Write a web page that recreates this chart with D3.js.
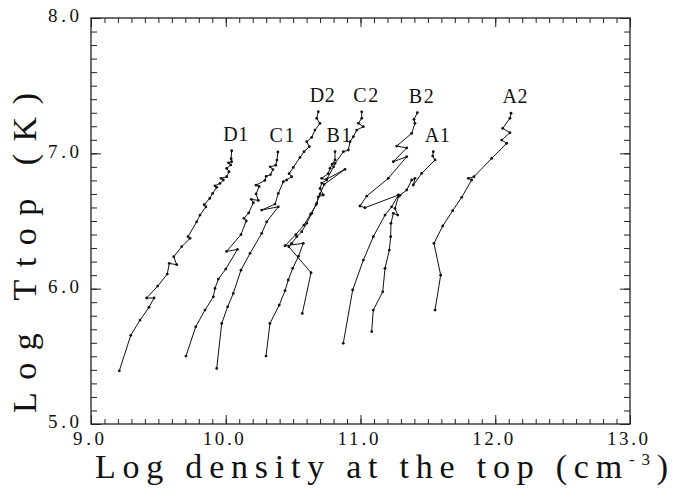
<!DOCTYPE html>
<html>
<head>
<meta charset="utf-8">
<script src="https://cdn.jsdelivr.net/npm/d3@7"></script>
<style>
  html, body { margin: 0; padding: 0; background: #fff; }
  svg { display: block; }
  .serif { font-family: "Liberation Serif", "Times New Roman", Times, serif; }
</style>
</head>
<body>
<svg id="chart" width="681" height="491"></svg>
<script>
// Cooling tracks: log density vs log temperature at the loop top.
const xDomain = [9, 13];
const yDomain = [5, 8];
const xMajorTicks = [9, 10, 11, 12, 13];
const yMajorTicks = [5, 6, 7, 8];

const trackNames = ["D1", "C1", "B1", "A1", "D2", "C2", "B2", "A2"];

const trackD1 = [[9.21,5.393],[9.295,5.655],[9.364,5.768],[9.43,5.862],[9.468,5.931],[9.413,5.931],[9.495,6.019],[9.566,6.108],[9.581,6.187],[9.636,6.177],[9.614,6.236],[9.673,6.31],[9.735,6.372],[9.72,6.384],[9.784,6.494],[9.809,6.544],[9.853,6.605],[9.84,6.62],[9.881,6.667],[9.903,6.704],[9.933,6.749],[9.92,6.76],[9.957,6.778],[9.982,6.803],[9.965,6.815],[10.007,6.827],[10.024,6.864],[10.007,6.889],[10.037,6.914],[10.02,6.93],[10.044,6.938],[10.04,6.96],[10.044,7.019]];
const trackC1 = [[9.705,5.502],[9.777,5.718],[9.846,5.842],[9.908,5.94],[9.92,6.002],[9.945,6.071],[10.0,6.145],[10.087,6.29],[10.006,6.275],[10.113,6.40],[10.152,6.50],[10.135,6.52],[10.17,6.56],[10.205,6.635],[10.19,6.66],[10.242,6.652],[10.225,6.70],[10.248,6.755],[10.225,6.765],[10.29,6.80],[10.30,6.83],[10.332,6.843],[10.35,6.88],[10.33,6.90],[10.371,6.912],[10.38,6.95],[10.387,7.01]];
const trackB1 = [[10.568,5.817],[10.633,6.118],[10.468,6.31],[10.489,6.335],[10.527,6.384],[10.564,6.421],[10.601,6.483],[10.638,6.557],[10.675,6.63],[10.687,6.679],[10.724,6.692],[10.70,6.74],[10.712,6.78],[10.749,6.803],[10.712,6.815],[10.76,6.85],[10.774,6.889],[10.79,6.92],[10.811,6.951],[10.811,7.012]];
const trackA1 = [[11.083,5.682],[11.095,5.842],[11.165,5.977],[11.182,6.15],[11.214,6.285],[11.224,6.384],[11.226,6.483],[11.244,6.557],[11.276,6.544],[11.256,6.593],[11.281,6.679],[11.293,6.69],[11.343,6.729],[11.38,6.803],[11.404,6.815],[11.392,6.766],[11.454,6.852],[11.553,6.951],[11.536,6.98],[11.54,7.012]];
const trackD2 = [[9.933,5.411],[9.97,5.743],[10.014,5.866],[10.056,5.965],[10.113,6.137],[10.18,6.261],[10.267,6.409],[10.304,6.494],[10.39,6.605],[10.267,6.581],[10.366,6.625],[10.39,6.704],[10.427,6.79],[10.452,6.803],[10.489,6.827],[10.47,6.85],[10.501,6.896],[10.551,6.97],[10.581,7.012],[10.62,7.049],[10.601,7.086],[10.638,7.118],[10.662,7.172],[10.699,7.221],[10.675,7.259],[10.687,7.308]];
const trackC2 = [[10.299,5.502],[10.328,5.743],[10.397,5.879],[10.44,5.985],[10.464,6.064],[10.497,6.15],[10.54,6.24],[10.575,6.335],[10.44,6.317],[10.52,6.40],[10.58,6.47],[10.63,6.55],[10.67,6.62],[10.70,6.70],[10.73,6.77],[10.885,6.882],[10.75,6.81],[10.80,6.90],[10.811,6.926],[10.873,7.012],[10.91,7.024],[10.922,7.086],[10.947,7.123],[10.972,7.172],[11.021,7.197],[10.984,7.222],[11.009,7.259],[11.009,7.307]];
const trackB2 = [[10.872,5.596],[10.942,5.99],[11.021,6.211],[11.095,6.384],[11.182,6.544],[11.231,6.605],[11.281,6.692],[11.033,6.598],[10.996,6.611],[11.046,6.684],[11.206,6.815],[11.343,6.975],[11.243,6.938],[11.343,7.04],[11.269,7.054],[11.38,7.148],[11.404,7.222],[11.397,7.251],[11.422,7.30]];
const trackA2 = [[11.553,5.842],[11.595,6.10],[11.545,6.335],[11.61,6.463],[11.684,6.576],[11.751,6.675],[11.825,6.803],[11.80,6.815],[11.842,6.827],[11.974,6.963],[12.085,7.074],[12.048,7.098],[12.109,7.152],[12.055,7.185],[12.109,7.259],[12.117,7.296]];

const tracks = [trackD1, trackC1, trackB1, trackA1, trackD2, trackC2, trackB2, trackA2]
  .map((pts, i) => ({ name: trackNames[i], pts }));

const ink = "#111";

const svg = d3.select("#chart");
svg.append("rect").attr("width", 681).attr("height", 491).attr("fill", "#fff");

const plotLeft = 91, plotRight = 630, plotTop = 18, plotBottom = 424;
const x = d3.scaleLinear().domain(xDomain).range([plotLeft, plotRight]);
const y = d3.scaleLinear().domain(yDomain).range([plotBottom, plotTop]);

const minorX = d3.range(90, 131).map(d => d / 10);
const minorY = d3.range(50, 81).map(d => d / 10);
const fmt = d3.format(".1f");

function styleAxis(g) {
  g.attr("font-family", null).attr("font-size", null).attr("class", "serif");
  g.select(".domain").remove();
  g.selectAll("line").attr("stroke", "#222").attr("stroke-width", 1);
  g.selectAll("text").attr("class", "serif").attr("fill", ink).attr("font-size", 19)
    .attr("textLength", d => fmt(d).length * 10.3).attr("lengthAdjust", "spacing");
}

// minor ticks on all four sides, pointing inward
svg.append("g").attr("transform", `translate(0,${plotBottom})`)
  .call(d3.axisBottom(x).tickValues(minorX).tickSize(-5).tickFormat("")).call(styleAxis);
svg.append("g").attr("transform", `translate(0,${plotTop})`)
  .call(d3.axisTop(x).tickValues(minorX).tickSize(-5).tickFormat("")).call(styleAxis);
svg.append("g").attr("transform", `translate(${plotLeft},0)`)
  .call(d3.axisLeft(y).tickValues(minorY).tickSize(-6).tickFormat("")).call(styleAxis);
svg.append("g").attr("transform", `translate(${plotRight},0)`)
  .call(d3.axisRight(y).tickValues(minorY).tickSize(-6).tickFormat("")).call(styleAxis);

// major ticks with labels
svg.append("g").attr("transform", `translate(0,${plotBottom})`)
  .call(d3.axisBottom(x).tickValues(xMajorTicks).tickSize(-9).tickPadding(8).tickFormat(fmt))
  .call(styleAxis)
  .selectAll("text").attr("dx", -3);

svg.append("g").attr("transform", `translate(${plotLeft},0)`)
  .call(d3.axisLeft(y).tickValues(yMajorTicks).tickSize(-10).tickPadding(12).tickFormat(fmt))
  .call(styleAxis)
  .selectAll("text").attr("dy", "0.2em");

svg.append("g").attr("transform", `translate(0,${plotTop})`)
  .call(d3.axisTop(x).tickValues(xMajorTicks).tickSize(-9).tickFormat("")).call(styleAxis);
svg.append("g").attr("transform", `translate(${plotRight},0)`)
  .call(d3.axisRight(y).tickValues(yMajorTicks).tickSize(-10).tickFormat("")).call(styleAxis);

// frame
svg.append("rect")
  .attr("x", plotLeft).attr("y", plotTop)
  .attr("width", plotRight - plotLeft).attr("height", plotBottom - plotTop)
  .attr("fill", "none").attr("stroke", "#222").attr("stroke-width", 1.3);

// tracks
const line = d3.line().x(d => x(d[0])).y(d => y(d[1]));
const plot = svg.append("g");
tracks.forEach(t => {
  plot.append("path").attr("d", line(t.pts))
    .attr("fill", "none").attr("stroke", ink).attr("stroke-width", 1)
    .attr("stroke-linejoin", "miter");
  plot.selectAll(null).data(t.pts).enter().append("circle")
    .attr("cx", d => x(d[0])).attr("cy", d => y(d[1])).attr("r", 1.4).attr("fill", ink);
  const end = t.pts[t.pts.length - 1];
  plot.append("text").attr("class", "serif")
    .attr("x", x(end[0]) + 4).attr("y", y(end[1]) - 10)
    .attr("text-anchor", "middle").attr("font-size", 20)
    .attr("textLength", 25).attr("lengthAdjust", "spacing")
    .attr("fill", ink)
    .text(t.name);
});

// axis titles, spread to their printed widths
const xTitle = svg.append("text").attr("class", "serif").attr("fill", ink)
  .attr("x", 95).attr("y", 478).attr("font-size", 34)
  .attr("textLength", 573).attr("lengthAdjust", "spacing");
xTitle.append("tspan").text("Log density at the top (cm");
xTitle.append("tspan").attr("font-size", 17).attr("dy", -13).text("-3");
xTitle.append("tspan").attr("dy", 13).text(")");

svg.append("text").attr("class", "serif").attr("fill", ink)
  .attr("transform", "translate(36,413) rotate(-90)")
  .attr("font-size", 34)
  .attr("textLength", 320).attr("lengthAdjust", "spacing")
  .text("Log Ttop (K)");
</script>
</body>
</html>
